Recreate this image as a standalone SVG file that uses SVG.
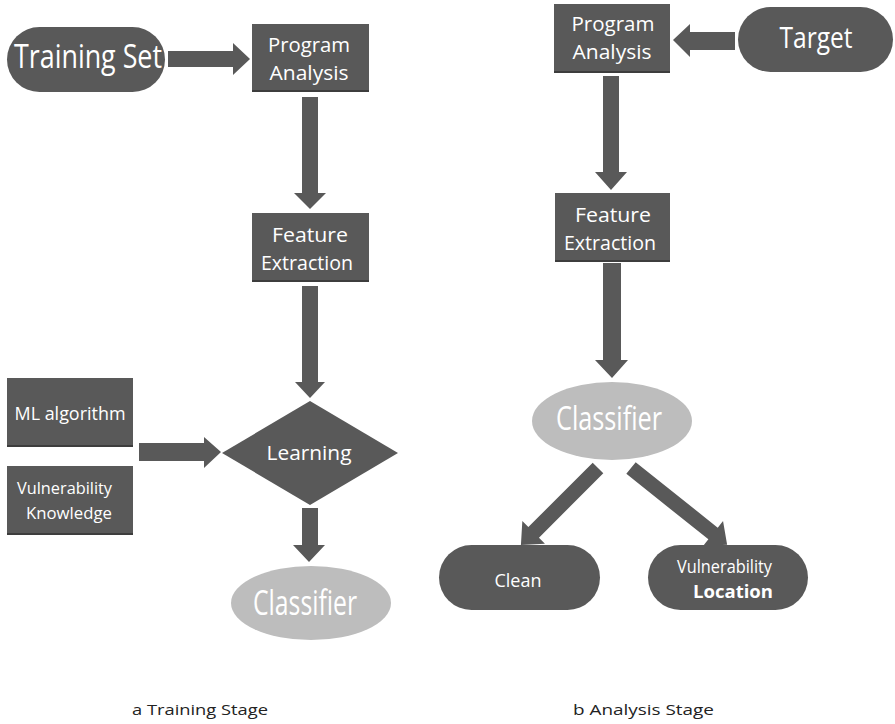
<svg xmlns="http://www.w3.org/2000/svg" width="895" height="724" viewBox="0 0 895 724">
  <style>
    .node { fill: #595959; }
    .edge { fill: #3d3d3d; }
    .cls { fill: #bdbdbd; }
    .arrow { fill: #595959; }
    text { font-family: "Open Sans", "DejaVu Sans", sans-serif; fill: #ffffff; text-anchor: middle; }
    .cap { fill: #222222; text-anchor: start; font-size: 15px; }
  </style>
  <rect width="895" height="724" fill="#ffffff"/>

  <!-- connectors -->
  <g id="connectors">
    <polygon class="arrow" points="168,51 233,51 233,43 250,59 233,75 233,67 168,67"/>
    <polygon class="arrow" points="302,97 318,97 318,193 326,193 310,209 294,193 302,193"/>
    <polygon class="arrow" points="302,286 318,286 318,382 325,382 310,398 295,382 302,382"/>
    <polygon class="arrow" points="139,443 204,443 204,437 221,452 204,468 204,461 139,461"/>
    <polygon class="arrow" points="302,508 318,508 318,545 325,545 309,562 293,545 302,545"/>
    <polygon class="arrow" points="735,32 690,32 690,24 673,40 690,57 690,50 735,50"/>
    <polygon class="arrow" points="603,76 619,76 619,172 627,172 611,190 595,172 603,172"/>
    <polygon class="arrow" points="603,263 621,263 621,360 628,360 612,378 595,360 603,360"/>
    <path class="arrow" transform="translate(598,468) rotate(135)" d="M0,-7.5 H91 V-16 L109,0 L91,16 V7.5 H0 Z"/>
    <path class="arrow" transform="translate(631,468) rotate(38.6)" d="M0,-7.5 H105 V-16 L123,0 L105,16 V7.5 H0 Z"/>
  </g>

  <!-- a: training stage -->
  <g id="training-set">
    <rect class="node" x="7" y="27" width="158" height="65" rx="32.5"/>
    <text x="88" y="68" font-size="32" textLength="148" lengthAdjust="spacingAndGlyphs">Training Set</text>
  </g>
  <g id="program-analysis-a">
    <rect class="node" x="252" y="24" width="117" height="68"/>
    <rect class="edge" x="252" y="90" width="117" height="2"/>
    <text x="309" y="52" font-size="20" textLength="82" lengthAdjust="spacingAndGlyphs">Program</text>
    <text x="309" y="80" font-size="20" textLength="79" lengthAdjust="spacingAndGlyphs">Analysis</text>
  </g>
  <g id="feature-extraction-a">
    <rect class="node" x="252" y="213" width="117" height="69"/>
    <rect class="edge" x="252" y="280" width="117" height="2"/>
    <text x="310" y="242" font-size="20" textLength="76" lengthAdjust="spacingAndGlyphs">Feature</text>
    <text x="307" y="270" font-size="20" textLength="92" lengthAdjust="spacingAndGlyphs">Extraction</text>
  </g>
  <g id="ml-algorithm">
    <rect class="node" x="7" y="378" width="126" height="69"/>
    <rect class="edge" x="7" y="445" width="126" height="2"/>
    <text x="70" y="420" font-size="18" textLength="111" lengthAdjust="spacingAndGlyphs">ML algorithm</text>
  </g>
  <g id="vulnerability-knowledge">
    <rect class="node" x="7" y="466" width="126" height="69"/>
    <rect class="edge" x="7" y="533" width="126" height="2"/>
    <text x="64.5" y="494" font-size="17" textLength="95" lengthAdjust="spacingAndGlyphs">Vulnerability</text>
    <text x="69" y="519" font-size="17" textLength="86" lengthAdjust="spacingAndGlyphs">Knowledge</text>
  </g>
  <g id="learning">
    <polygon class="node" points="310,401 398,453 310,505 222,453"/>
    <text x="309" y="460" font-size="20" textLength="85" lengthAdjust="spacingAndGlyphs">Learning</text>
  </g>
  <g id="classifier-a">
    <ellipse class="cls" cx="311" cy="603" rx="80" ry="37"/>
    <text x="305" y="615" font-size="34" textLength="104" lengthAdjust="spacingAndGlyphs">Classifier</text>
  </g>

  <!-- b: analysis stage -->
  <g id="target">
    <rect class="node" x="738" y="7" width="155" height="65" rx="32.5"/>
    <text x="816" y="48" font-size="29" textLength="73" lengthAdjust="spacingAndGlyphs">Target</text>
  </g>
  <g id="program-analysis-b">
    <rect class="node" x="554" y="4" width="116" height="69"/>
    <rect class="edge" x="554" y="71" width="116" height="2"/>
    <text x="613" y="31" font-size="20" textLength="83" lengthAdjust="spacingAndGlyphs">Program</text>
    <text x="612" y="59" font-size="20" textLength="79" lengthAdjust="spacingAndGlyphs">Analysis</text>
  </g>
  <g id="feature-extraction-b">
    <rect class="node" x="555" y="193" width="115" height="69"/>
    <rect class="edge" x="555" y="260" width="115" height="2"/>
    <text x="613" y="222" font-size="20" textLength="76" lengthAdjust="spacingAndGlyphs">Feature</text>
    <text x="610" y="250" font-size="20" textLength="92" lengthAdjust="spacingAndGlyphs">Extraction</text>
  </g>
  <g id="classifier-b">
    <ellipse class="cls" cx="612" cy="421" rx="80" ry="39"/>
    <text x="609" y="430" font-size="33" textLength="106" lengthAdjust="spacingAndGlyphs">Classifier</text>
  </g>
  <g id="clean">
    <rect class="node" x="439" y="545" width="161" height="65" rx="32.5"/>
    <text x="518" y="587" font-size="18" textLength="47" lengthAdjust="spacingAndGlyphs">Clean</text>
  </g>
  <g id="vulnerability-location">
    <rect class="node" x="648" y="545" width="160" height="65" rx="32.5"/>
    <text x="724.5" y="573" font-size="18" textLength="95" lengthAdjust="spacingAndGlyphs">Vulnerability</text>
    <text x="733" y="598" font-size="18" font-weight="bold" textLength="80" lengthAdjust="spacingAndGlyphs">Location</text>
  </g>

  <!-- stage captions -->
  <text class="cap" x="132" y="715" textLength="136" lengthAdjust="spacingAndGlyphs">a Training Stage</text>
  <text class="cap" x="573" y="715" textLength="141" lengthAdjust="spacingAndGlyphs">b Analysis Stage</text>
</svg>
